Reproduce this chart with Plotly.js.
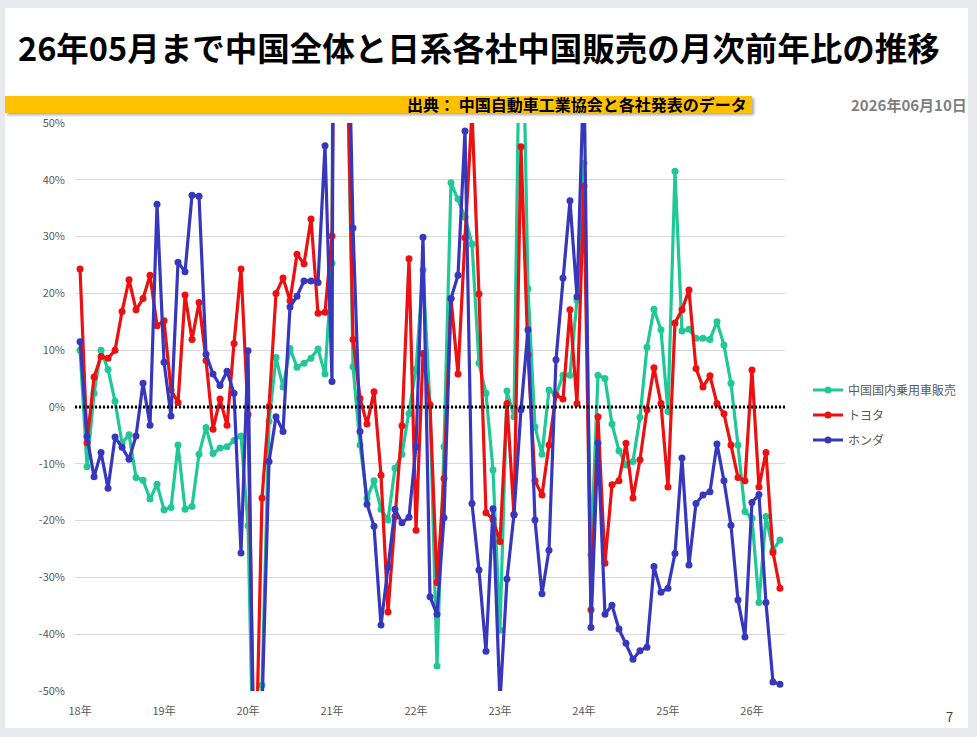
<!DOCTYPE html>
<html>
<head>
<meta charset="utf-8">
<script src="https://cdn.plot.ly/plotly-3.0.1.min.js"></script>
<style>
  html, body { margin:0; padding:0; background:#E7E9EC; }
  #card { position:absolute; left:5px; top:8px; width:963px; height:720px; background:#FFFFFF; }
  #banner { position:absolute; left:5px; top:96px; width:747px; height:17px; background:#FFC000;
            box-shadow: 2px 2px 3px rgba(0,0,0,0.35); }
  #chart { position:absolute; left:0; top:0; width:977px; height:737px; }
</style>
</head>
<body>
<div id="card"></div>
<div id="banner"></div>
<div id="chart"></div>
<script>
// ---- data (year-on-year %, monthly, 2018-01 .. 2026-05) ----
const startYear = 2018;
const monthCount = 101;
const months = [];
for (let i = 0; i < monthCount; i++) {
  const y = startYear + Math.floor(i / 12), m = (i % 12) + 1;
  months.push(y + '-' + (m < 10 ? '0' + m : m));
}

const seriesNames = ['中国国内乗用車販売', 'トヨタ', 'ホンダ'];

const chinaTotal = [
  10.0, -10.5, 2.4, 10.0, 6.6, 1.0, -6.4, -4.9, -12.4, -12.9, -16.2, -13.6,
  -18.1, -17.7, -6.7, -18.0, -17.5, -8.3, -3.6, -8.2, -7.2, -7.0, -5.9, -5.1,
  -20.9, -78.0, -49.0, -2.5, 8.7, 3.5, 10.3, 7.0, 7.7, 8.6, 10.2, 5.8,
  25.3, 378.0, 75.0, 7.1, -6.7, -16.1, -13.0, -18.0, -19.9, -10.8, -8.3, -1.2,
  6.7, 24.1, 0.2, -45.6, -7.0, 39.5, 36.6, 33.4, 28.7, 7.7, 2.4, -11.1,
  -39.3, 2.8, -1.7, 87.0, 20.8, -3.5, -8.3, 3.0, 2.1, 5.6, 5.6, 18.8,
  42.9, -26.0, 5.6, 5.0, -3.0, -7.7, -10.2, -9.6, -1.8, 10.5, 17.2, 13.6,
  -0.8, 41.5, 13.4, 13.7, 12.1, 12.1, 11.9, 15.0, 10.9, 4.2, -6.7, -18.4,
  -19.6, -34.4, -19.3, -25.2, -23.4
];

const toyota = [
  24.3, -6.3, 5.3, 8.9, 8.6, 10.0, 16.8, 22.4, 17.1, 19.1, 23.2, 14.3,
  15.2, 3.0, 0.8, 19.7, 11.9, 18.4, 8.2, -3.9, 1.4, -3.2, 11.2, 24.3,
  -1.3, -70.0, -16.0, 0.1, 20.0, 22.7, 18.7, 26.9, 25.2, 33.1, 16.5, 16.7,
  30.1, 180.0, 73.0, 11.9, 1.5, -3.0, 2.7, -12.0, -36.1, -19.3, -3.3, 26.1,
  -21.7, 9.4, 0.4, -30.9, -12.6, 19.1, 5.8, 29.8, 52.0, 19.9, -18.6, -19.8,
  -23.7, 0.6, -19.0, 45.8, 9.2, -13.0, -15.5, -6.7, 2.1, 1.4, 17.1, 0.6,
  38.9, -35.7, -1.7, -27.5, -13.7, -13.0, -6.4, -16.0, -9.3, -0.5, 6.9, 0.6,
  -14.1, 14.8, 17.1, 20.6, 6.8, 3.5, 5.5, 0.6, -1.2, -6.7, -12.4, -13.0,
  6.5, -14.1, -8.0, -25.6, -31.9
];

const honda = [
  11.5, -5.2, -12.3, -8.0, -14.3, -5.3, -7.1, -9.2, -5.1, 4.2, -3.2, 35.7,
  7.9, -1.6, 25.5, 23.8, 37.3, 37.1, 9.3, 5.8, 3.8, 6.3, 2.4, -25.7,
  9.9, -85.0, -53.0, -9.6, -1.7, -4.3, 17.6, 19.5, 22.2, 22.2, 21.9, 46.0,
  4.5, 400.0, 90.0, 31.5, -4.3, -17.1, -21.0, -38.4, -28.2, -18.0, -20.4, -19.4,
  -7.0, 29.9, -33.4, -36.5, -19.5, 19.1, 23.2, 48.6, -17.0, -28.7, -43.0, -17.9,
  -52.0, -30.3, -18.9, -0.5, 13.6, -19.9, -32.9, -25.2, 8.3, 22.7, 36.3, 19.4,
  60.0, -38.8, -6.4, -36.5, -34.9, -39.1, -41.6, -44.4, -42.9, -42.3, -28.1, -32.6,
  -31.9, -25.8, -9.0, -27.8, -17.0, -15.5, -14.9, -6.5, -13.0, -20.8, -34.0, -40.5,
  -16.8, -15.4, -34.4, -48.4, -48.8
];

const xTickVals = ['2018-01','2019-01','2020-01','2021-01','2022-01','2023-01','2024-01','2025-01','2026-01'];
const xTickText = ['18年','19年','20年','21年','22年','23年','24年','25年','26年'];
const yTickVals = [-50,-40,-30,-20,-10,0,10,20,30,40,50];
const yTickText = ['-50%','-40%','-30%','-20%','-10%','0%','10%','20%','30%','40%','50%'];

const titleText = '26年05月まで中国全体と日系各社中国販売の月次前年比の推移';
const sourceText = '出典： 中国自動車工業協会と各社発表のデータ';
const dateText = '2026年06月10日';
const pageText = '7';

// ---- chart ----
const colors = ['#1FC896', '#EC1010', '#3737BD'];
const allSeries = [chinaTotal, toyota, honda];
const JP = '"Noto Sans CJK JP", "Noto Sans", sans-serif';

const traces = allSeries.map((vals, k) => ({
  type: 'scatter',
  mode: 'lines+markers',
  name: seriesNames[k],
  legendgroup: 'g' + k,
  x: months,
  y: vals,
  line: { color: colors[k], width: 3.2 },
  marker: { color: colors[k], size: 7 },
  cliponaxis: true
}));

const L = 75, R = 192, T = 123, B = 46;
const PW = 977 - L - R, PH = 737 - T - B;
const px = v => (v - L) / PW;
const py = v => (737 - B - v) / PH;

const layout = {
  width: 977, height: 737,
  margin: { l: L, r: R, t: T, b: B, pad: 0 },
  paper_bgcolor: 'rgba(0,0,0,0)',
  plot_bgcolor: 'rgba(0,0,0,0)',
  showlegend: true,
  title: {
    text: titleText,
    xref: 'container', yref: 'container',
    x: 18 / 977, xanchor: 'left',
    y: 1 - 50 / 737, yanchor: 'middle',
    font: { family: JP, size: 32.5, color: '#000000', weight: 700 }
  },
  xaxis: {
    type: 'category',
    range: [-0.72, monthCount - 1 + 0.72],
    tickmode: 'array', tickvals: xTickVals, ticktext: xTickText,
    showgrid: false, zeroline: false, showline: false, ticks: '',
    ticklabelstandoff: 12,
    tickfont: { family: JP, size: 11, color: '#595959' },
    fixedrange: true
  },
  yaxis: {
    range: [-50, 50],
    tickmode: 'array', tickvals: yTickVals, ticktext: yTickText,
    showgrid: true, gridcolor: '#D9D9D9', gridwidth: 1,
    zeroline: false, showline: false, ticks: '',
    ticklabelstandoff: 9,
    tickfont: { family: JP, size: 11, color: '#595959' },
    fixedrange: true
  },
  legend: {
    x: px(808), xanchor: 'left',
    y: py(415), yanchor: 'middle',
    traceorder: 'grouped', tracegroupgap: 6,
    font: { family: JP, size: 12, color: '#595959' },
    bgcolor: 'rgba(0,0,0,0)', itemwidth: 30
  },
  shapes: [{
    type: 'line', xref: 'paper', yref: 'y', x0: 0, x1: 1, y0: 0, y1: 0,
    line: { color: '#000000', width: 3, dash: '2px,2px' }, layer: 'above'
  }],
  annotations: [
    { text: sourceText, xref: 'paper', yref: 'paper', x: px(749), y: py(104),
      xanchor: 'right', yanchor: 'middle', showarrow: false,
      font: { family: JP, size: 16, color: '#000000', weight: 700 } },
    { text: dateText, xref: 'paper', yref: 'paper', x: px(849), y: py(104),
      xanchor: 'left', yanchor: 'middle', showarrow: false,
      font: { family: JP, size: 15, color: '#7F7F7F', weight: 700 } },
    { text: pageText, xref: 'paper', yref: 'paper', x: px(950), y: py(716),
      xanchor: 'center', yanchor: 'middle', showarrow: false,
      font: { family: JP, size: 13, color: '#404040' } }
  ]
};

Plotly.newPlot('chart', traces, layout, { displayModeBar: false, staticPlot: true });
</script>
</body>
</html>
